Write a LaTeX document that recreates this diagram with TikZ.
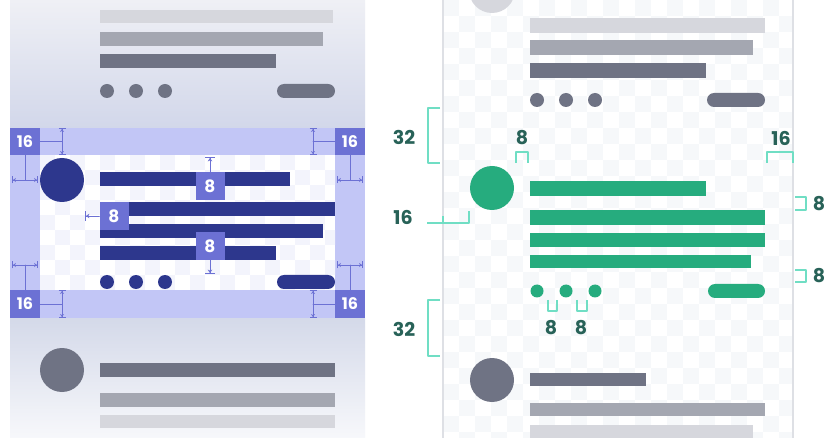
\documentclass[tikz,border=0pt]{standalone}
\usepackage{fontspec}
\setmainfont{Poppins}
\usetikzlibrary{arrows.meta}
\definecolor{navy}{RGB}{45,55,141}
\definecolor{lavender}{RGB}{194,198,246}
\definecolor{boxblue}{RGB}{108,113,212}
\definecolor{barA}{RGB}{111,115,132}
\definecolor{barB}{RGB}{164,167,177}
\definecolor{barC}{RGB}{214,215,221}
\definecolor{mint}{RGB}{38,172,126}
\definecolor{mintline}{RGB}{112,222,196}
\definecolor{tealtext}{RGB}{40,98,88}
\definecolor{checkA}{RGB}{243,244,252}
\definecolor{checkB}{RGB}{246,248,250}
\definecolor{frame}{RGB}{222,224,229}
\begin{document}
\begin{tikzpicture}[x=1pt,y=-1pt,line join=round,line cap=round,
		cornerbox/.style={fill=boxblue,text=white,minimum width=30pt,minimum height=27pt,inner sep=0pt,font=\bfseries\fontsize{16}{16}\selectfont},
		gapbox/.style={fill=boxblue,text=white,minimum width=29pt,minimum height=28pt,inner sep=0pt,font=\bfseries\fontsize{17}{17}\selectfont},
		dimline/.style={draw=boxblue,line width=0.9pt,{Bar[width=7pt]Stealth[length=3pt,width=4pt]}-{Stealth[length=3pt,width=4pt]Bar[width=7pt]}},
		gaparrow/.style={draw=boxblue,line width=0.9pt,-{Stealth[length=3.5pt,width=4.5pt]Bar[width=10pt]}},
		leader/.style={draw=boxblue,line width=0.9pt},
		gapmark/.style={draw=mintline,line width=1.4pt,line cap=butt},
		gaplabel/.style={text=tealtext,inner sep=0pt,font=\bfseries\fontsize{19}{19}\selectfont},
		pill/.style={rounded corners=7pt}]
	\useasboundingbox (0,0) rectangle (827,438);
	\fill[white] (0,0) rectangle (827,438);
	
	\shade[top color={rgb,255:red,239;green,240;blue,245},bottom color={rgb,255:red,210;green,215;blue,234}] (10,0) rectangle (365,128);
	\shade[top color={rgb,255:red,212;green,217;blue,233},bottom color={rgb,255:red,247;green,248;blue,251}] (10,318) rectangle (365,438);
	\fill[lavender] (10,128) rectangle (365,318);
	\fill[white] (40,155) rectangle (335,290);
	\begin{scope}
		\clip (40,155) rectangle (335,290);
		\foreach \i in {0,...,19}
			\foreach \j in {0,...,9}{
				\pgfmathtruncatemacro{\k}{mod(\i+\j,2)}
				\ifnum\k=0 \fill[checkA] (40+15*\i,155+15*\j) rectangle ++(15,15);\fi
			}
	\end{scope}
	
	\fill[barC] (100,10) rectangle (333,23);
	\fill[barB] (100,32) rectangle (323,46);
	\fill[barA] (100,54) rectangle (276,68);
	\foreach \x in {107,136,165} \fill[barA] (\x,91) circle[radius=7];
	\fill[barA,pill] (277,84) rectangle (335,98);
	
	\fill[navy] (62,180) circle[radius=22];
	\fill[navy] (100,172) rectangle (290,186);
	\fill[navy] (100,202) rectangle (335,216);
	\fill[navy] (100,224) rectangle (323,238);
	\fill[navy] (100,246) rectangle (276,260);
	\foreach \x in {107,136,165} \fill[navy] (\x,282) circle[radius=7];
	\fill[navy,pill] (277,275) rectangle (335,289);
	
	\node[gapbox] (ga) at (210,186) {8};
	\node[gapbox] (gb) at (114,216) {8};
	\node[gapbox] (gc) at (210,246) {8};
	\draw[gaparrow] (ga.north) -- (210,157);
	\draw[gaparrow] (gb.west) -- (85,216);
	\draw[gaparrow] (gc.south) -- (210,274);
	
	\node[cornerbox] (tl) at (25,141.5) {16};
	\node[cornerbox] (tr) at (350,141.5) {16};
	\node[cornerbox] (bl) at (25,304) {16};
	\node[cornerbox] (br) at (350,304) {16};
	\draw[leader] (tl.east) -- (62,141.5);
	\draw[leader] (tl.south) -- (25,180);
	\draw[leader] (tr.west) -- (313,141.5);
	\draw[leader] (tr.south) -- (350,180);
	\draw[leader] (bl.east) -- (62,304);
	\draw[leader] (bl.north) -- (25,265);
	\draw[leader] (br.west) -- (313,304);
	\draw[leader] (br.north) -- (350,265);
	\draw[dimline] (62,128) -- (62,155);
	\draw[dimline] (12,180) -- (38,180);
	\draw[dimline] (313,128) -- (313,155);
	\draw[dimline] (337,180) -- (363,180);
	\draw[dimline] (62,290) -- (62,318);
	\draw[dimline] (12,265) -- (38,265);
	\draw[dimline] (313,290) -- (313,318);
	\draw[dimline] (337,265) -- (363,265);
	
	\fill[barA] (62,370) circle[radius=22];
	\fill[barA] (100,363) rectangle (335,377);
	\fill[barB] (100,393) rectangle (335,407);
	\fill[barC] (100,415) rectangle (335,428);
	
	\begin{scope}
		\clip (443,0) rectangle (793,438);
		\foreach \i in {0,...,22}
			\foreach \j in {0,...,27}{
				\pgfmathtruncatemacro{\k}{mod(\i+\j,2)}
				\ifnum\k=0 \fill[checkB] (443+16*\i,16*\j) rectangle ++(16,16);\fi
			}
		\fill[barC] (492,-10) circle[radius=23];
	\end{scope}
	\draw[frame,line width=1.5pt] (443,0) -- (443,438);
	\draw[frame,line width=1.5pt] (793,0) -- (793,438);
	
	\fill[barC] (530,18) rectangle (765,33);
	\fill[barB] (530,40) rectangle (753,55);
	\fill[barA] (530,63) rectangle (706,78);
	\foreach \x in {537,566,595} \fill[barA] (\x,100) circle[radius=7];
	\fill[barA,pill] (707,93) rectangle (765,107);
	
	\fill[mint] (492,188) circle[radius=22];
	\fill[mint] (530,181) rectangle (706,196);
	\fill[mint] (530,210) rectangle (765,225);
	\fill[mint] (530,233) rectangle (765,247);
	\fill[mint] (530,255) rectangle (751,268);
	\foreach \x in {537,566,595} \fill[mint] (\x,291) circle[radius=6.5];
	\fill[mint,pill] (708,284) rectangle (765,298);
	
	\fill[barA] (492,380) circle[radius=22];
	\fill[barA] (530,373) rectangle (646,386);
	\fill[barB] (530,403) rectangle (765,416);
	\fill[barC] (530,425) rectangle (753,438);
	
	\node[gaplabel] (ta) at (404,137) {32};
	\draw[gapmark] (440,108) -- (428,108) -- (428,163) -- (440,163);
	\node[gaplabel] (tb) at (522,138) {8};
	\draw[gapmark] (516,163) -- (516,152) -- (528,152) -- (528,163);
	\node[gaplabel] (tc) at (781,138) {16};
	\draw[gapmark] (767,163) -- (767,152) -- (793,152) -- (793,163);
	\node[gaplabel] (td) at (403,217) {16};
	\draw[gapmark] (427,223) -- (469,223) -- (469,211);
	\draw[gapmark] (443,223) -- (443,216);
	\node[gaplabel] (te) at (819,204) {8};
	\draw[gapmark] (795,197) -- (806,197) -- (806,210) -- (795,210);
	\node[gaplabel] (tf) at (819,276) {8};
	\draw[gapmark] (795,270) -- (806,270) -- (806,282) -- (795,282);
	\draw[gapmark] (548,300) -- (548,311) -- (557,311) -- (557,300);
	\draw[gapmark] (577,300) -- (577,311) -- (587,311) -- (587,300);
	\node[gaplabel] (tg) at (551,328) {8};
	\node[gaplabel] (th) at (581,328) {8};
	\node[gaplabel] (ti) at (404,329) {32};
	\draw[gapmark] (440,300) -- (428,300) -- (428,356) -- (440,356);
\end{tikzpicture}
\end{document}
